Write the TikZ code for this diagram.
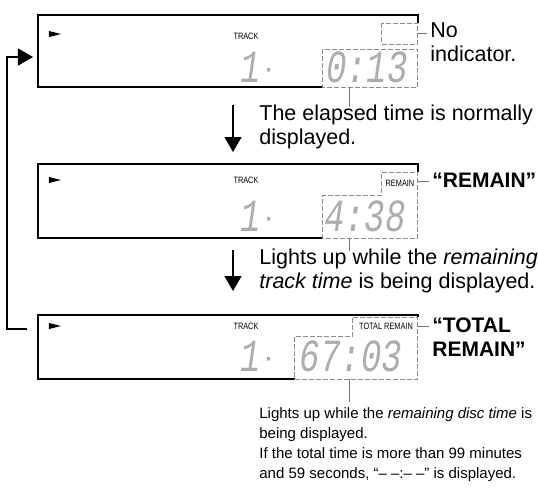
\documentclass[tikz,border=0pt]{standalone}
\usepackage{fontspec}
\setmainfont{Liberation Sans}
\newfontfamily\lcdfont{Liberation Mono}
\usepackage{graphicx}
\usepackage{tikz}
\usetikzlibrary{positioning}
\usetikzlibrary{arrows.meta}

% segment digits and the tiny panel words
\newcommand{\lcd}[1]{\scalebox{0.74}[1]{\lcdfont\itshape\fontsize{23}{23}\selectfont #1}}
\newcommand{\panelword}[1]{\scalebox{0.8}[1]{\fontsize{4.6}{5}\selectfont #1}}

\begin{document}
\begin{tikzpicture}[x=0.5pt, y=-0.5pt,
    frame/.style={draw=black, line width=0.7pt},
    dashbox/.style={draw=black!45, line width=0.5pt, dash pattern=on 2.5pt off 1pt},
    leader/.style={draw=black!55, line width=0.4pt},
    flow/.style={draw=black, line width=0.7pt, -{Triangle[length=7.5pt,width=8.5pt]}},
    note/.style={font=\fontsize{10.75}{11.9}\selectfont, align=left, anchor=base west, inner sep=0pt},
    smallnote/.style={note, font=\fontsize{7.5}{9.85}\selectfont},
    callout/.style={note, font=\fontsize{10.5}{11.7}\selectfont\bfseries},
    digits/.style={text=black!32, inner sep=0pt},
    paneltext/.style={inner sep=0pt}]
\useasboundingbox (0,0) rectangle (538,488);

% display 1: elapsed time
\draw[frame] (323,87) -- (38,87) -- (38,15) -- (418,15) -- (418,23);
\draw[dashbox] (382,23) rectangle (418,44);
\draw[dashbox] (323,49) rectangle (418,87);
\fill (49,31) -- (61,34) -- (49,37) -- cycle;
\node[paneltext] (track1) at (246,36) {\panelword{TRACK}};
\node[digits] (trk1) at (257,67) {\lcd{1\kern3pt\scalebox{0.35}[1]{-}}};
\node[digits] (time1) at (367,67) {\lcd{0:13}};
\coordinate (ind1) at (418,33);
\coordinate (lead1) at (349,87);

% display 2: remaining track time
\draw[frame] (323,238) -- (38,238) -- (38,164) -- (418,164) -- (418,172);
\draw[dashbox] (382,172) -- (418,172) -- (418,238) -- (323,238) -- (323,195) -- (382,195) -- cycle;
\fill (49,177) -- (61,180) -- (49,183) -- cycle;
\node[paneltext] (track2) at (246,180) {\panelword{TRACK}};
\node[paneltext] (remain2) at (400,183) {\panelword{REMAIN}};
\node[digits] (trk2) at (257,216) {\lcd{1\kern3pt\scalebox{0.35}[1]{-}}};
\node[digits] (time2) at (365,216) {\lcd{4:38}};
\coordinate (ind2) at (418,181);
\coordinate (lead2) at (349,238);

% display 3: remaining disc time
\draw[frame] (295,379) -- (38,379) -- (38,315) -- (418,315) -- (418,317);
\draw[dashbox] (353,317) -- (418,317) -- (418,379) -- (295,379) -- (295,336) -- (353,336) -- cycle;
\fill (49,323) -- (61,326) -- (49,329) -- cycle;
\node[paneltext] (track3) at (246,326) {\panelword{TRACK}};
\node[paneltext] (total3) at (386,326) {\panelword{TOTAL REMAIN}};
\node[digits] (trk3) at (257,356) {\lcd{1\kern3pt\scalebox{0.35}[1]{-}}};
\node[digits] (time3) at (351,356) {\lcd{67:03}};
\coordinate (ind3) at (418,326);
\coordinate (lead3) at (349,379);

% texts (base = baseline of the last line)
\node[note] (noind) at (430,61) {No\\indicator.};
\node[callout] (remainlbl) at (432,187) {“REMAIN”};
\node[callout] (totallbl) at (432,356) {“TOTAL\\REMAIN”};
\node[note] (note1) at (259,144) {The elapsed time is normally\\displayed.};
\node[note] (note2) at (259,288) {Lights up while the \textit{remaining}\\\textit{track time} is being displayed.};
\node[smallnote] (note3) at (259,478) {Lights up while the \textit{remaining disc time} is\\being displayed.\\If the total time is more than 99 minutes\\and 59 seconds, “– –:– –” is displayed.};

% leaders
\draw[leader] (ind1) -- ([xshift=-1.5pt]ind1 -| noind.west);
\draw[leader] (ind2) -- ([xshift=-1.5pt]ind2 -| remainlbl.west);
\draw[leader] (ind3) -- ([xshift=-1.5pt]ind3 -| totallbl.west);
\draw[leader] (lead1) -- ([yshift=-1.5pt]lead1 |- note1.north);
\draw[leader] (lead2) -- ([yshift=-1.5pt]lead2 |- note2.north);
\draw[leader] (lead3) -- ([yshift=3pt]lead3 |- note3.north);

% flow arrows
\coordinate (down1) at (233,105);
\coordinate (down1end) at (233,152);
\coordinate (down2) at (233,250);
\coordinate (down2end) at (233,291);
\coordinate (loopstart) at (27,329);
\coordinate (loopend) at (33,57);
\draw[flow] (down1) -- (down1end);
\draw[flow] (down2) -- (down2end);
\draw[flow] (loopstart) -- ++(-20,0) |- (loopend);
\end{tikzpicture}
\end{document}
